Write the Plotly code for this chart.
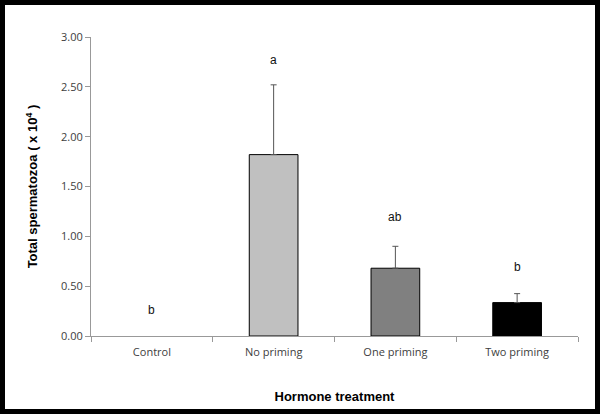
import plotly.graph_objects as go

categories = ["Control", "No priming", "One priming", "Two priming"]
means = [0.0, 1.82, 0.68, 0.335]
errors = [0.0, 0.70, 0.22, 0.09]
bar_colors = ["#ffffff", "#c0c0c0", "#808080", "#000000"]
letters = ["b", "a", "ab", "b"]
letter_y = [0.26, 2.77, 1.19, 0.69]
y_ticks = [0, 0.5, 1.0, 1.5, 2.0, 2.5, 3.0]

W, H = 600, 414
ml, mr, mt, mb = 91, 22, 37, 78
pw, ph = W - ml - mr, H - mt - mb

fig = go.Figure()
fig.add_trace(go.Bar(
    x=categories, y=means,
    marker=dict(color=bar_colors, line=dict(color="#000000", width=[0, 1, 1, 1])),
    width=0.4,
    showlegend=False,
))
# error bars only where an error exists
eb_x = [c for c, e in zip(categories, errors) if e > 0]
eb_y = [m for m, e in zip(means, errors) if e > 0]
eb_e = [e for e in errors if e > 0]
fig.add_trace(go.Scatter(
    x=eb_x, y=eb_y, mode="markers",
    marker=dict(size=1, opacity=0),
    error_y=dict(type="data", array=eb_e, visible=True, symmetric=False,
                 arrayminus=[0]*len(eb_e), color="#555555", thickness=1, width=3),
    showlegend=False, hoverinfo="skip",
))

for c, t, yv in zip(categories, letters, letter_y):
    fig.add_annotation(x=c, y=yv, text=t, showarrow=False,
                       font=dict(family="Arial, Liberation Sans", size=12, color="#111111"))

def px(xp):
    return (xp - ml) / pw

def py(yp):
    return (H - mb - yp) / ph

fig.add_shape(type="rect", xref="paper", yref="paper",
              x0=px(2.5), x1=px(597.5), y0=py(2.5), y1=py(411.5),
              line=dict(color="#000000", width=5), fillcolor="rgba(0,0,0,0)")

fig.update_layout(
    width=W, height=H,
    margin=dict(l=ml, r=mr, t=mt, b=mb, autoexpand=False),
    paper_bgcolor="#ffffff", plot_bgcolor="#ffffff",
    bargap=0.6,
    font=dict(family="Liberation Sans, Arial", color="#404040", size=11),
)
fig.update_xaxes(
    showline=True, linecolor="#999999", linewidth=1,
    ticks="outside", tickson="boundaries", ticklen=5, tickcolor="#999999",
    ticklabelstandoff=6,
    tickfont=dict(family="Open Sans, Liberation Sans", size=11, color="#404040"),
    title=dict(text="<b>Hormone treatment</b>", standoff=33,
               font=dict(family="Liberation Sans, Arial", size=13, color="#000000")),
    showgrid=False,
)
fig.update_yaxes(
    range=[0, 3.0], tickvals=y_ticks, tickformat=".2f",
    showline=True, linecolor="#999999", linewidth=1,
    ticks="outside", ticklen=5, tickcolor="#999999",
    tickfont=dict(family="Open Sans, Liberation Sans", size=11, color="#404040"),
    title=dict(text="<b>Total spermatozoa ( x 10<sup>4</sup> )</b>", standoff=20,
               font=dict(family="Liberation Sans, Arial", size=13, color="#000000")),
    showgrid=False, zeroline=False,
)

fig.write_html("out.html", config={"displayModeBar": False},
               post_script="document.body.style.margin='0';")
